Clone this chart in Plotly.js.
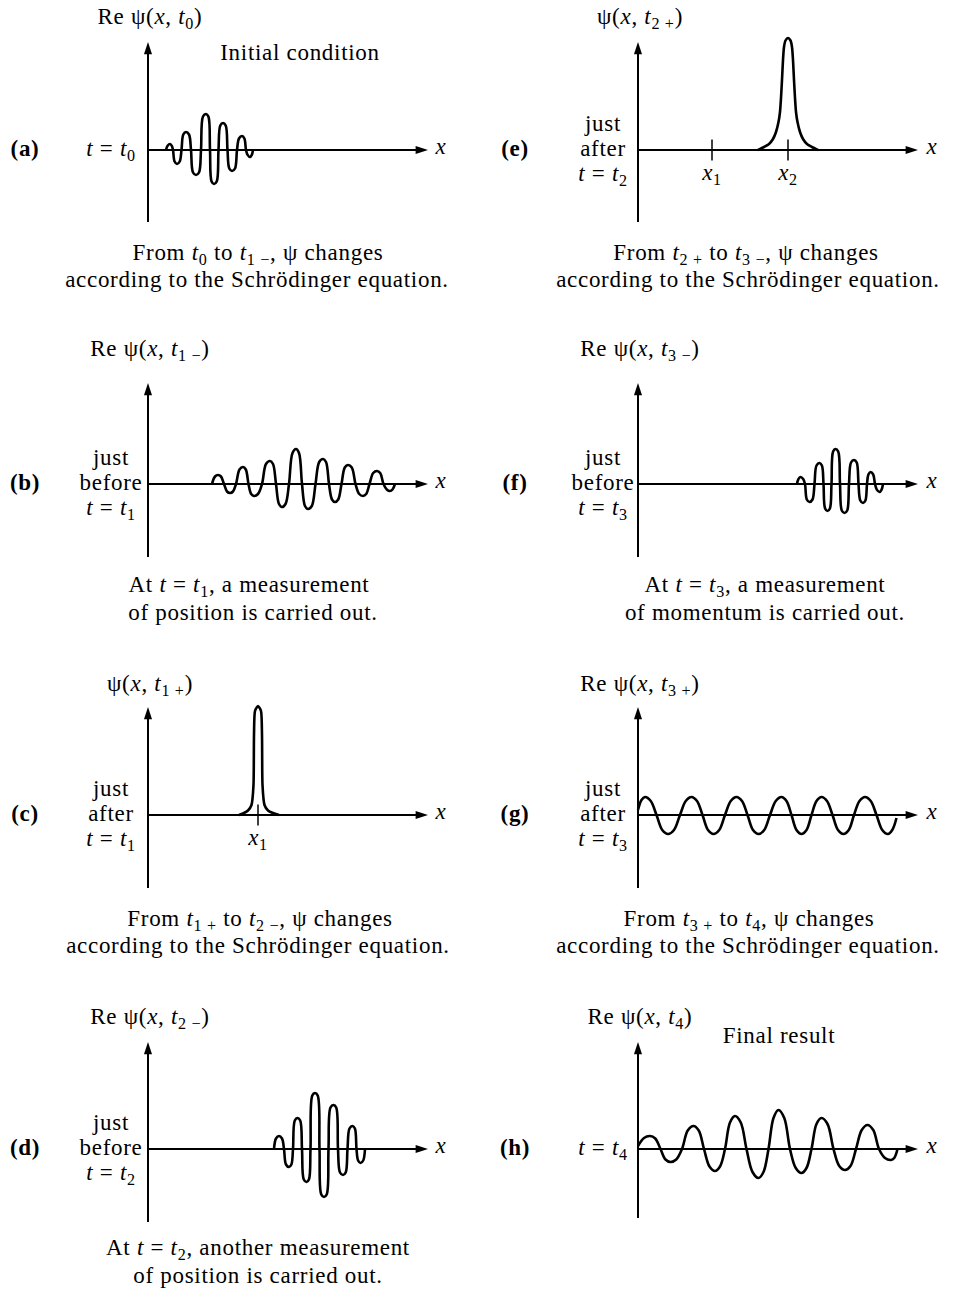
<!DOCTYPE html>
<html><head><meta charset="utf-8">
<script src="https://cdn.plot.ly/plotly-3.0.1.min.js"></script>
<style>html,body{margin:0;padding:0;background:#fff;}#chart{width:958px;height:1289px;}text{letter-spacing:0.7px;}</style>
</head><body><div id="chart"></div>
<script>
// ---- values: x = distance along the x axis from the psi axis, y = height above the x axis ----
// (zero crossings, shoulders and crests of each lobe)
const waveA_x = [18, 19.6, 22, 23.8, 25, 26.6, 29, 31.7, 33.5, 35.3, 38, 41, 43, 45, 48, 51, 53, 55, 58, 60.4, 62, 63.6, 66, 68.7, 70.5, 72.3, 75, 77.7, 79.5, 81.3, 84, 87, 89, 91, 94, 96.4, 98, 99.6, 102, 103.8, 105];
const waveA_y = [0, 4.2, 6, 4.2, 0, -11.5, -14, -11.5, 0, 15.5, 18, 15.5, 0, -22.5, -25, -22.5, 0, 33.5, 36, 33.5, 0, -31.5, -34, -31.5, 0, 24.5, 27, 24.5, 0, -18.5, -21, -18.5, 0, 11.5, 14, 11.5, 0, -4.9, -7, -4.9, 0];

const waveB_x = [64, 67, 70, 73, 76, 79, 82, 85, 88, 91.5, 95, 97.8, 100.5, 103.2, 106, 110, 114, 118, 122, 125, 128, 131, 134, 137.5, 141, 144.5, 148, 151, 154, 157, 160, 163.8, 167.5, 171.2, 175, 178, 181, 184, 187, 190.2, 193.5, 196.8, 200, 203.8, 207.5, 211.2, 215, 218.2, 221.5, 225.2, 229, 232.2, 235.5, 238.8, 242, 244.5, 247];
const waveB_y = [0, 7.5, 9, 7.5, 0, -7.5, -9, -7.5, 0, 14.5, 17, 14.5, 0, -10, -12, -10, 0, 20, 23, 20, 0, -20, -23, -20, 0, 31, 35, 31, 0, -22, -25, -22, 0, 22, 25, 22, 0, -15.5, -18, -15.5, 0, 16.5, 19, 16.5, 0, -10, -12, -10, 0, 11, 13, 11, 0, -5.5, -7, -5.5, 0];

const spikeC_x = [91, 96, 100, 103.5, 105.5, 106, 107, 110, 113, 114, 114.5, 116.5, 120, 125, 131];
const spikeC_y = [0, 2, 4.5, 10, 30, 80, 104, 109, 104, 80, 30, 10, 4.5, 2, 0];
const ticksC_x = [110];
const ticksC_text = ['<i>x</i><sub>1</sub>'];

const waveD_x = [126, 128, 131, 134, 136, 138, 141, 143.4, 145, 146.8, 149.5, 152.2, 154, 155.8, 158.5, 160.9, 162.5, 164.3, 167, 169.7, 171.5, 173.3, 176, 178.7, 180.5, 182.5, 185.5, 188.2, 190, 192, 195, 197.7, 199.5, 201.5, 204.5, 206.9, 208.5, 210.1, 212.5, 215.2, 217];
const waveD_y = [0, 10.5, 13, 10.5, 0, -15.5, -18, -15.5, 0, 28.5, 31, 28.5, 0, -30.5, -33, -30.5, 0, 53.5, 56, 53.5, 0, -45.5, -48, -45.5, 0, 41.5, 44, 41.5, 0, -23.5, -26, -23.5, 0, 20.5, 23, 20.5, 0, -11.5, -14, -11.5, 0];

const spikeE_x = [120, 126, 131, 135, 138, 140.5, 142, 143, 144, 145, 146, 147.5, 150, 152.5, 154, 155, 156, 157, 158, 159.5, 162, 165, 169, 174, 180];
const spikeE_y = [0, 3, 6, 11, 18, 28, 38, 52, 70, 90, 103, 109.5, 112, 109.5, 103, 90, 70, 52, 38, 28, 18, 11, 6, 3, 0];
const ticksE_x = [74, 150];
const ticksE_text = ['<i>x</i><sub>1</sub>', '<i>x</i><sub>2</sub>'];

const waveF_x = [159, 160.4, 162.5, 165.2, 167, 168.8, 171.5, 174.5, 176.5, 178.5, 181.5, 183.9, 185.5, 187.1, 189.5, 191.9, 193.5, 195.1, 197.5, 200.2, 202, 203.8, 206.5, 209.2, 211, 213, 216, 218.7, 220.5, 222.3, 225, 227.4, 229, 230.4, 232.5, 235.2, 237, 238.8, 241.5, 243.6, 245];
const waveF_y = [0, 4.9, 7, 4.9, 0, -15.5, -18, -15.5, 0, 18.5, 21, 18.5, 0, -24.5, -27, -24.5, 0, 32.5, 35, 32.5, 0, -26.5, -29, -26.5, 0, 21.5, 24, 21.5, 0, -16.5, -19, -16.5, 0, 9.5, 12, 9.5, 0, -5.6, -8, -5.6, 0];

const waveG_x = [0, 3.5, 7, 12.75, 18.5, 24.25, 30, 36, 42, 47.75, 53.5, 59, 64.5, 70, 75.5, 81.25, 87, 92.75, 98.5, 104, 109.5, 115, 120.5, 126.25, 132, 137.75, 143.5, 148.5, 153.5, 158.5, 163.5, 168.5, 173.5, 178.5, 183.5, 189, 194.5, 200, 205.5, 210.75, 216, 221.5, 227, 232.75, 238.5, 244.25, 250, 254.25, 258.5];
const waveG_y = [5, 15, 18, 14, 0, -15, -19, -15, 0, 14, 18, 14, 0, -15, -19, -15, 0, 14, 18, 14, 0, -15, -19, -15, 0, 14, 18, 14, 0, -15, -19, -15, 0, 14, 18, 14, 0, -15, -19, -15, 0, 14, 18, 14, 0, -15, -19, -15, -3];

const waveH_x = [0, 6, 12, 17.25, 22.5, 27.5, 32.5, 38.25, 44, 49.75, 55.5, 60.75, 66, 71.5, 77, 82, 87, 92, 97, 102.75, 108.5, 114.5, 120.5, 125.5, 130.5, 135.5, 140.5, 146.25, 152, 157.75, 163.5, 168.5, 173.5, 178.5, 183.5, 189.5, 195.5, 201.25, 207, 212.5, 218, 223.75, 229.5, 235.25, 241, 247, 253, 256.25, 259.5];
const waveH_y = [3, 11, 13, 10.5, 0, -10.5, -13, -10.5, 0, 18.5, 23, 18.5, 0, -17.5, -22, -17.5, 0, 26.5, 33, 26.5, 0, -23, -29, -23, 0, 31, 39, 31, 0, -19, -24, -19, 0, 25, 31, 25, 0, -17, -21, -17, 0, 19, 24, 19, 0, -9, -11, -9, 0];

// ---- texts ----
const panelLetters = ['(a)', '(b)', '(c)', '(d)', '(e)', '(f)', '(g)', '(h)'];
const psiTitles = [
  'Re ψ(<i>x</i>, <i>t</i><sub>0</sub>)',
  'Re ψ(<i>x</i>, <i>t</i><sub>1 −</sub>)',
  'ψ(<i>x</i>, <i>t</i><sub>1 +</sub>)',
  'Re ψ(<i>x</i>, <i>t</i><sub>2 −</sub>)',
  'ψ(<i>x</i>, <i>t</i><sub>2 +</sub>)',
  'Re ψ(<i>x</i>, <i>t</i><sub>3 −</sub>)',
  'Re ψ(<i>x</i>, <i>t</i><sub>3 +</sub>)',
  'Re ψ(<i>x</i>, <i>t</i><sub>4</sub>)'
];
const stateLabels = [
  ['<i>t</i> = <i>t</i><sub>0</sub>'],
  ['just', 'before', '<i>t</i> = <i>t</i><sub>1</sub>'],
  ['just', 'after', '<i>t</i> = <i>t</i><sub>1</sub>'],
  ['just', 'before', '<i>t</i> = <i>t</i><sub>2</sub>'],
  ['just', 'after', '<i>t</i> = <i>t</i><sub>2</sub>'],
  ['just', 'before', '<i>t</i> = <i>t</i><sub>3</sub>'],
  ['just', 'after', '<i>t</i> = <i>t</i><sub>3</sub>'],
  ['<i>t</i> = <i>t</i><sub>4</sub>']
];
const captions = [
  ['From <i>t</i><sub>0</sub> to <i>t</i><sub>1 −</sub>, ψ changes', 'according to the Schrödinger equation.'],
  ['At <i>t</i> = <i>t</i><sub>1</sub>, a measurement', 'of position is carried out.'],
  ['From <i>t</i><sub>1 +</sub> to <i>t</i><sub>2 −</sub>, ψ changes', 'according to the Schrödinger equation.'],
  ['At <i>t</i> = <i>t</i><sub>2</sub>, another measurement', 'of position is carried out.'],
  ['From <i>t</i><sub>2 +</sub> to <i>t</i><sub>3 −</sub>, ψ changes', 'according to the Schrödinger equation.'],
  ['At <i>t</i> = <i>t</i><sub>3</sub>, a measurement', 'of momentum is carried out.'],
  ['From <i>t</i><sub>3 +</sub> to <i>t</i><sub>4</sub>, ψ changes', 'according to the Schrödinger equation.'],
  []
];
const panelNotes = [['Initial condition'], [], [], [], [], [], [], ['Final result']];

// ---- layout of the sheet (pixels) ----
const W = 958, H = 1289;
const FONT = 'Liberation Serif, Times New Roman, serif';
const FS = 23;
const series = [
  {x: waveA_x, y: waveA_y, sm: 1},
  {x: waveB_x, y: waveB_y, sm: 1},
  {x: spikeC_x, y: spikeC_y, sm: 0.6},
  {x: waveD_x, y: waveD_y, sm: 1},
  {x: spikeE_x, y: spikeE_y, sm: 0.6},
  {x: waveF_x, y: waveF_y, sm: 1},
  {x: waveG_x, y: waveG_y, sm: 1},
  {x: waveH_x, y: waveH_y, sm: 1}
];
const tickSets = [null, null, {x: ticksC_x, t: ticksC_text}, null, {x: ticksE_x, t: ticksE_text}, null, null, null];
const panels = [
  {ox: 148, oy: 150, up: 108, down: 72, col: 0, cap: [[258, 254], [257, 281]], note: [[300, 54]]},
  {ox: 148, oy: 484, up: 101, down: 73, col: 0, cap: [[249, 586], [253, 614]]},
  {ox: 148, oy: 815, up: 108, down: 73, col: 0, cap: [[260, 920], [258, 947]]},
  {ox: 148, oy: 1149, up: 107, down: 73, col: 0, cap: [[258, 1249], [258, 1277]]},
  {ox: 638, oy: 150, up: 108, down: 72, col: 1, cap: [[746, 254], [748, 281]]},
  {ox: 638, oy: 484, up: 101, down: 73, col: 1, cap: [[765, 586], [765, 614]]},
  {ox: 638, oy: 815, up: 108, down: 73, col: 1, cap: [[749, 920], [748, 947]]},
  {ox: 638, oy: 1149, up: 107, down: 69, col: 1, cap: [], note: [[779, 1037]]}
];
const titleDy = [132, 134, 130, 131, 132, 134, 130, 131];
const XLEN = 280, XL = 30, XR = 300, YD = 90, YU = 125;
const letterX = [25, 515], stateX = [111, 603], xLabX = [441, 932];

const traces = [];
const layout = {
  width: W, height: H, margin: {l: 0, r: 0, t: 0, b: 0},
  paper_bgcolor: '#fff', plot_bgcolor: 'rgba(0,0,0,0)', showlegend: false,
  font: {family: FONT, size: FS, color: '#000'}
};
// page-wide text layer (pixel coordinates of the sheet)
const tX = [], tY = [], tT = [];
function txt(x, y, text) { tX.push(x); tY.push(y); tT.push(text); }

panels.forEach((p, i) => {
  const xa = i === 0 ? 'x' : 'x' + (i + 1);
  const ya = i === 0 ? 'y' : 'y' + (i + 1);
  layout[i === 0 ? 'xaxis' : 'xaxis' + (i + 1)] = {domain: [(p.ox - XL) / W, (p.ox + XR) / W], range: [-XL, XR],
    visible: false, fixedrange: true};
  layout[i === 0 ? 'yaxis' : 'yaxis' + (i + 1)] = {domain: [1 - (p.oy + YD) / H, 1 - (p.oy - YU) / H], range: [-YD, YU],
    visible: false, fixedrange: true};
  const axLine = {color: '#000', width: 2};
  // psi axis
  traces.push({type: 'scatter', mode: 'lines', x: [0, 0], y: [-p.down, p.up - 6], line: axLine, xaxis: xa, yaxis: ya, hoverinfo: 'skip'});
  traces.push({type: 'scatter', mode: 'markers', x: [0], y: [p.up], xaxis: xa, yaxis: ya, hoverinfo: 'skip',
    marker: {symbol: 'arrow', size: 13, angle: 0, color: '#000', line: {width: 0}}});
  // x axis
  traces.push({type: 'scatter', mode: 'lines', x: [0, XLEN - 6], y: [0, 0], line: axLine, xaxis: xa, yaxis: ya, hoverinfo: 'skip'});
  traces.push({type: 'scatter', mode: 'markers', x: [XLEN], y: [0], xaxis: xa, yaxis: ya, hoverinfo: 'skip',
    marker: {symbol: 'arrow', size: 13, angle: 90, color: '#000', line: {width: 0}}});
  // the wave function
  const s = series[i];
  traces.push({type: 'scatter', mode: 'lines', x: s.x, y: s.y, xaxis: xa, yaxis: ya, hoverinfo: 'skip',
    line: {color: '#000', width: 2.6, shape: 'spline', smoothing: s.sm}});
  // position ticks and their labels
  const tk = tickSets[i];
  if (tk) {
    traces.push({type: 'scatter', mode: 'markers', x: tk.x, y: tk.x.map(() => 0), xaxis: xa, yaxis: ya,
      hoverinfo: 'skip', marker: {symbol: 'line-ns', size: 15, color: '#000', line: {width: 1.5, color: '#000'}}});
    traces.push({type: 'scatter', mode: 'markers+text', x: tk.x, y: tk.x.map(() => 0), xaxis: xa, yaxis: ya,
      hoverinfo: 'skip', text: tk.t, textposition: 'bottom center',
      textfont: {family: FONT, size: FS, color: '#000'},
      marker: {size: 19, color: 'rgba(0,0,0,0)', line: {width: 0}}});
  }
  // texts
  txt(p.ox + 2, p.oy - titleDy[i], psiTitles[i]);
  txt(letterX[p.col], p.oy, '<b>' + panelLetters[i] + '</b>');
  txt(xLabX[p.col], p.oy - 2, '<i>x</i>');
  const st = stateLabels[i];
  if (st.length === 1) txt(stateX[p.col], p.oy, st[0]);
  else st.forEach((t, k) => txt(stateX[p.col], p.oy + (k - 1) * 25, t));
  captions[i].forEach((t, k) => txt(p.cap[k][0], p.cap[k][1], t));
  panelNotes[i].forEach((t, k) => txt(p.note[k][0], p.note[k][1], t));
});

layout.xaxis9 = {domain: [0, 1], range: [0, W], visible: false, fixedrange: true};
layout.yaxis9 = {domain: [0, 1], range: [H, 0], visible: false, fixedrange: true};
traces.push({type: 'scatter', mode: 'markers+text', x: tX, y: tY, text: tT, xaxis: 'x9', yaxis: 'y9',
  textposition: 'middle center', cliponaxis: true, hoverinfo: 'skip',
  marker: {size: 1, color: 'rgba(0,0,0,0)', line: {width: 0}},
  textfont: {family: FONT, size: tX.map(() => FS), color: '#000'}});

Plotly.newPlot('chart', traces, layout, {staticPlot: true, displayModeBar: false});
</script>
</body></html>
